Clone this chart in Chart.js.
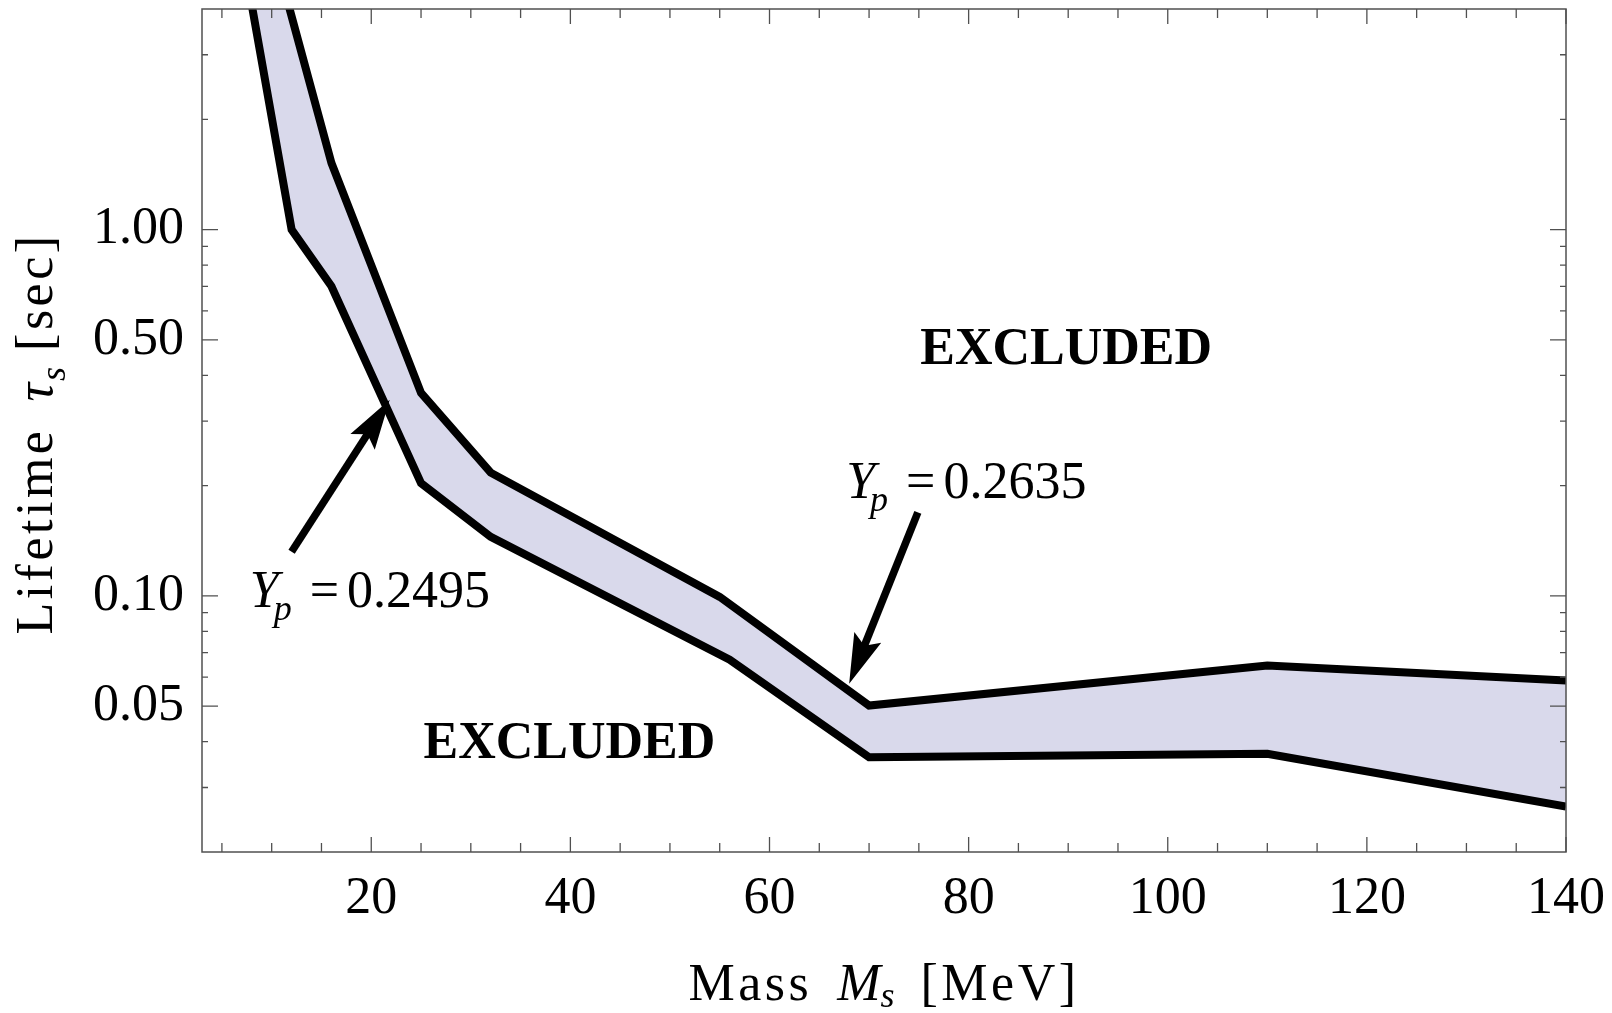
<!DOCTYPE html>
<html>
<head>
<meta charset="utf-8">
<script src="https://cdn.jsdelivr.net/npm/chart.js@4.4.0/dist/chart.umd.min.js"></script>
<style>
html, body { margin:0; padding:0; background:#fff; }
canvas { display:block; }
</style>
</head>
<body>
<canvas id="bbn_chart" width="1612" height="1013"></canvas>
<script>
// band edges (mass in MeV, lifetime in sec)
let massUpper = [8, 16, 25, 32, 55, 70, 110, 140];
let lifeUpper = [9.6, 1.52, 0.358, 0.217, 0.0994, 0.0502, 0.0646, 0.0588];
let massLower = [8, 12, 16, 25, 32, 56, 70, 110, 140];
let lifeLower = [4.1, 1.0, 0.70, 0.203, 0.145, 0.067, 0.0363, 0.0371, 0.0266];

let xMajorTicks = [20, 40, 60, 80, 100, 120, 140];
let xMinorTicks = [5, 10, 15, 25, 30, 35, 45, 50, 55, 65, 70, 75, 85, 90, 95, 105, 110, 115, 125, 130, 135];
let yMajorTicks = [0.05, 0.1, 0.5, 1];
let yMinorTicks = [0.03, 0.04, 0.06, 0.07, 0.08, 0.09, 0.2, 0.3, 0.4, 0.6, 0.7, 0.8, 0.9, 2, 3];

// annotations, in data coordinates
let ypValues = ["0.2495", "0.2635"];
let ypTextAt = [[7.8, 0.0933], [67.7, 0.1846]];
let arrowTail = [[12.0, 0.132], [74.9, 0.169]];
let arrowTip = [[21.85, 0.343], [68.0, 0.0576]];
let excludedAt = [[89.8, 0.43], [39.9, 0.036]];

const SERIF = "'Liberation Serif', 'Times New Roman', serif";

function runsWidth(ctx, runs) {
    let w = 0;
    runs.forEach(function(r){
        ctx.font = r.font;
        ctx.letterSpacing = r.ls || "0px";
        w += (r.dx || 0) + ctx.measureText(r.text).width;
    });
    return w;
}

function drawRuns(ctx, x, y, runs) {
    runs.forEach(function(r){
        x += r.dx || 0;
        ctx.font = r.font;
        ctx.letterSpacing = r.ls || "0px";
        ctx.fillText(r.text, x, y + (r.dy || 0));
        x += ctx.measureText(r.text).width;
    });
    ctx.letterSpacing = "0px";
}

function drawArrow(ctx, x1, y1, x2, y2) {
    let ang = Math.atan2(y2 - y1, x2 - x1);
    let headLen = 50, headHalf = 14.5, notch = 9;
    ctx.lineWidth = 7.5;
    ctx.lineCap = "butt";
    ctx.beginPath();
    ctx.moveTo(x1, y1);
    ctx.lineTo(x2 - Math.cos(ang) * (headLen - notch - 2), y2 - Math.sin(ang) * (headLen - notch - 2));
    ctx.stroke();
    ctx.save();
    ctx.translate(x2, y2);
    ctx.rotate(ang);
    ctx.beginPath();
    ctx.moveTo(0, 0);
    ctx.lineTo(-headLen, -headHalf);
    ctx.lineTo(-headLen + notch, 0);
    ctx.lineTo(-headLen, headHalf);
    ctx.closePath();
    ctx.fill();
    ctx.restore();
}

const frameAndNotes = {
    id: "frameAndNotes",
    afterDraw: function(chart) {
        const ctx = chart.ctx;
        const a = chart.chartArea;
        const xs = chart.scales.x, ys = chart.scales.y;
        ctx.save();

        // frame
        ctx.strokeStyle = "#505050";
        ctx.lineWidth = 1.5;
        ctx.strokeRect(a.left, a.top, a.right - a.left, a.bottom - a.top);

        // inward ticks on all four sides
        ctx.lineWidth = 1.3;
        ctx.beginPath();
        function xt(v, len) {
            let px = xs.getPixelForValue(v);
            ctx.moveTo(px, a.bottom); ctx.lineTo(px, a.bottom - len);
            ctx.moveTo(px, a.top); ctx.lineTo(px, a.top + len);
        }
        function yt(v, len) {
            let py = ys.getPixelForValue(v);
            ctx.moveTo(a.left, py); ctx.lineTo(a.left + len, py);
            ctx.moveTo(a.right, py); ctx.lineTo(a.right - len, py);
        }
        xMajorTicks.forEach(function(v){ xt(v, 15); });
        xMinorTicks.forEach(function(v){ xt(v, 9); });
        yMajorTicks.forEach(function(v){ yt(v, 16); });
        yMinorTicks.forEach(function(v){ yt(v, 6); });
        ctx.stroke();

        ctx.fillStyle = "#000";
        ctx.strokeStyle = "#000";
        ctx.textAlign = "left";
        ctx.textBaseline = "alphabetic";

        // arrows
        for (let i = 0; i < arrowTip.length; i++) {
            drawArrow(ctx,
                xs.getPixelForValue(arrowTail[i][0]), ys.getPixelForValue(arrowTail[i][1]),
                xs.getPixelForValue(arrowTip[i][0]), ys.getPixelForValue(arrowTip[i][1]));
        }

        // Y_p labels
        for (let i = 0; i < ypValues.length; i++) {
            drawRuns(ctx, xs.getPixelForValue(ypTextAt[i][0]), ys.getPixelForValue(ypTextAt[i][1]), [
                {text: "Y", font: "italic 52px " + SERIF},
                {text: "p", font: "italic 36px " + SERIF, dx: -5, dy: 13},
                {text: "=", font: "52px " + SERIF, dx: 18},
                {text: ypValues[i], font: "52px " + SERIF, dx: 8}
            ]);
        }

        // EXCLUDED regions
        ctx.textAlign = "center";
        ctx.font = "bold 52px " + SERIF;
        excludedAt.forEach(function(p){
            ctx.fillText("EXCLUDED", xs.getPixelForValue(p[0]), ys.getPixelForValue(p[1]));
        });
        ctx.textAlign = "left";

        // axis titles
        let xRuns = [
            {text: "Mass", font: "52px " + SERIF, ls: "3.5px"},
            {text: "M", font: "italic 52px " + SERIF, dx: 25},
            {text: "s", font: "italic 36px " + SERIF, dx: 0, dy: 7},
            {text: "[MeV]", font: "52px " + SERIF, ls: "3.5px", dx: 26}
        ];
        let xw = runsWidth(ctx, xRuns);
        drawRuns(ctx, (a.left + a.right) / 2 - xw / 2, a.bottom + 148, xRuns);

        let yRuns = [
            {text: "Lifetime", font: "52px " + SERIF, ls: "3.5px"},
            {text: "τ", font: "italic 52px " + SERIF, dx: 26},
            {text: "s", font: "italic 36px " + SERIF, dx: 2, dy: 13},
            {text: "[sec]", font: "52px " + SERIF, ls: "3.5px", dx: 16}
        ];
        let yw = runsWidth(ctx, yRuns);
        ctx.translate(52, (a.top + a.bottom) / 2 + 3);
        ctx.rotate(-Math.PI / 2);
        drawRuns(ctx, -yw / 2, 0, yRuns);

        ctx.restore();
    }
};

let bandChart = new Chart(document.getElementById("bbn_chart"), {
    type: "line",
    data: {
        datasets: [
            {
                label: "upper",
                data: massUpper.map(function(m, i){ return {x: m, y: lifeUpper[i]}; }),
                borderColor: "#000",
                borderWidth: 8,
                pointRadius: 0,
                fill: false,
                clip: 0
            },
            {
                label: "lower",
                data: massLower.map(function(m, i){ return {x: m, y: lifeLower[i]}; }),
                borderColor: "#000",
                borderWidth: 8,
                pointRadius: 0,
                fill: "-1",
                backgroundColor: "rgb(217,217,235)",
                clip: 0
            }
        ]
    },
    options: {
        responsive: false,
        animation: false,
        layout: { padding: { left: 0, top: 9, right: 46, bottom: 0 } },
        plugins: { legend: { display: false }, tooltip: { enabled: false } },
        scales: {
            x: {
                type: "linear",
                min: 3,
                max: 140,
                grid: { display: false, drawTicks: false },
                border: { display: false },
                ticks: {
                    autoSkip: false, maxRotation: 0, padding: 16, color: "#000",
                    font: { family: SERIF, size: 52 }
                },
                afterBuildTicks: function(s){ s.ticks = xMajorTicks.map(function(v){ return {value: v}; }); },
                afterFit: function(s){ s.height = 161; s.paddingLeft = 0; s.paddingRight = 0; }
            },
            y: {
                type: "logarithmic",
                min: 0.02,
                max: 4,
                grid: { display: false, drawTicks: false },
                border: { display: false },
                ticks: {
                    autoSkip: false, padding: 18, color: "#000",
                    font: { family: SERIF, size: 52 },
                    callback: function(v){ return Number(v).toFixed(2); }
                },
                afterBuildTicks: function(s){ s.ticks = yMajorTicks.map(function(v){ return {value: v}; }); },
                afterFit: function(s){ s.width = 202; s.paddingTop = 0; s.paddingBottom = 0; }
            }
        }
    },
    plugins: [frameAndNotes]
});
</script>
</body>
</html>
